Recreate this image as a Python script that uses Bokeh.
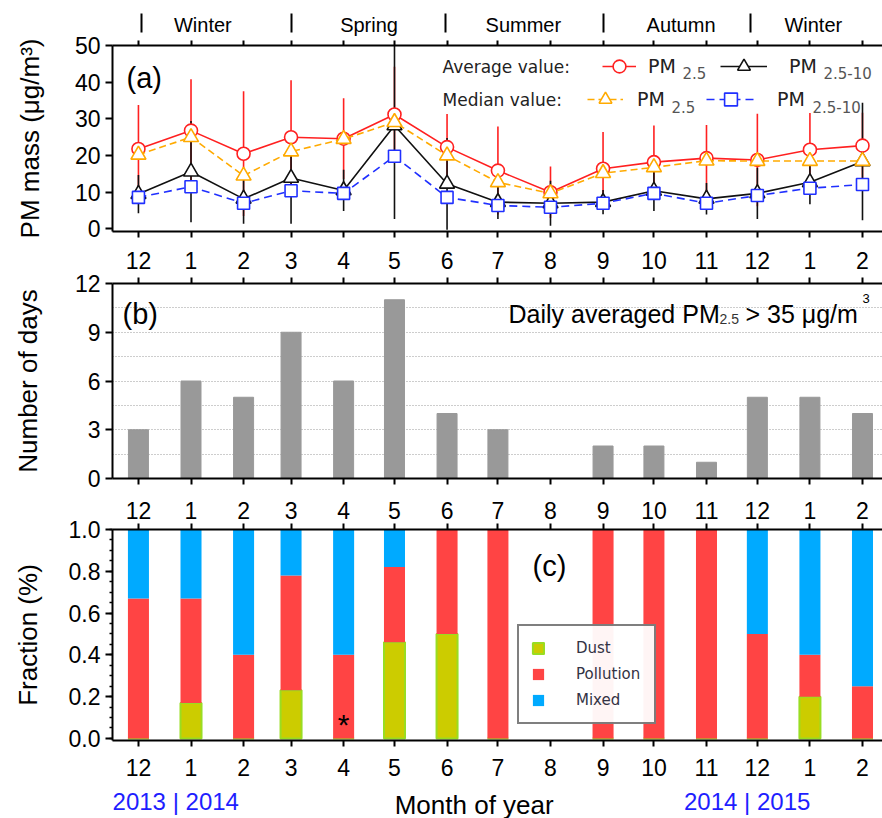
import numpy as np
import pandas as pd
from bokeh.plotting import figure
from bokeh.layouts import column
from bokeh.models import (ColumnDataSource, Range1d, FixedTicker, SingleIntervalTicker,
                          LinearAxis, Label, Legend, LegendItem, PrintfTickFormatter)
from bokeh.embed import file_html
from bokeh.resources import INLINE
from bokeh.core.properties import value

# ---------------- data ----------------
month_dates = ["2013-12-15", "2014-01-15", "2014-02-15", "2014-03-15", "2014-04-15",
               "2014-05-15", "2014-06-15", "2014-07-15", "2014-08-15", "2014-09-15",
               "2014-10-15", "2014-11-15", "2014-12-15", "2015-01-15", "2015-02-15"]
month_labels = ["12", "1", "2", "3", "4", "5", "6", "7", "8", "9", "10", "11", "12", "1", "2"]

season_names = ["Winter", "Spring", "Summer", "Autumn", "Winter"]
season_label_dates = ["2014-01-22", "2014-04-30", "2014-07-30", "2014-10-31", "2015-01-17"]
season_bound_dates = ["2013-12-17", "2014-03-15", "2014-06-14", "2014-09-15", "2014-12-11"]

note_texts = ["2013 | 2014", "Month of year", "2014 | 2015"]
note_dates = ["2014-01-06", "2014-07-01", "2014-12-09"]
note_colors = ["#1E1EFF", "black", "#1E1EFF"]
note_sizes = ["24px", "26px", "24px"]

# panel (a)  PM mass (ug/m3)
pm25_avg = [21.8, 26.8, 20.5, 25.0, 24.6, 31.2, 22.3, 15.9, 10.0, 16.4, 18.2, 19.3, 18.8, 21.6, 22.7]
pm25_std = [12.0, 14.0, 17.0, 15.5, 11.0, 13.0, 9.0, 12.0, 7.0, 10.0, 10.0, 9.0, 12.6, 10.0, 9.0]
pmc_avg = [9.5, 15.6, 8.2, 13.9, 10.5, 28.2, 12.3, 7.3, 7.0, 7.3, 10.4, 8.2, 9.7, 12.7, 18.4]
pmc_std = [5.2, 13.8, 6.8, 12.5, 5.6, 25.5, 12.5, 4.6, 6.1, 3.3, 5.5, 4.3, 7.0, 6.0, 16.0]
pm25_med = [20.2, 25.0, 14.5, 21.1, 24.5, 29.1, 20.0, 12.7, 9.7, 15.2, 16.8, 18.6, 18.5, 18.5, 18.5]
pmc_med = [8.6, 11.5, 7.0, 10.4, 9.7, 19.8, 8.6, 6.4, 5.9, 7.0, 9.7, 7.0, 9.1, 11.1, 12.1]

# panel (b)  number of days with daily PM2.5 > 35
days_over = [3, 6, 5, 9, 6, 11, 4, 3, 0, 2, 2, 1, 5, 5, 4]

# panel (c)  fractions
nan = float("nan")
frac_dust = [0.0, 0.17, 0.0, 0.23, 0.0, 0.46, 0.50, 0.0, nan, 0.0, 0.0, 0.0, 0.0, 0.20, 0.0]
frac_pollution = [0.67, 0.50, 0.40, 0.55, 0.40, 0.36, 0.50, 1.0, nan, 1.0, 1.0, 1.0, 0.50, 0.20, 0.25]
frac_mixed = [0.33, 0.33, 0.60, 0.22, 0.60, 0.18, 0.0, 0.0, nan, 0.0, 0.0, 0.0, 0.50, 0.60, 0.75]
star_index = 4
star_value = 0.1

# ---------------- helpers ----------------
ref = pd.Timestamp(month_dates[0])
def to_x(dates):
    return [int((pd.Timestamp(d) - ref).days) for d in dates]

mx = to_x(month_dates)
xr = Range1d(-15.3, 438.8)
FONT = "Liberation Sans"
LFONT = "DejaVu Sans"
W = 882
LEFT = 112

def style_x(ax, labels, standoff=0):
    ax.ticker = FixedTicker(ticks=mx, minor_ticks=[])
    ax.major_tick_out = 6
    ax.major_tick_in = 0
    ax.minor_tick_out = 0
    ax.minor_tick_in = 0
    ax.axis_line_width = 2
    ax.major_tick_line_width = 2
    ax.axis_line_color = "black"
    ax.major_tick_line_color = "black"
    if labels:
        ax.major_label_overrides = {x: l for x, l in zip(mx, month_labels)}
        ax.major_label_text_font = FONT
        ax.major_label_text_font_size = "23px"
        ax.major_label_text_color = "black"
        ax.major_label_standoff = standoff
    else:
        ax.major_label_overrides = {x: "" for x in mx}
        ax.major_label_text_font_size = "0px"
        ax.major_label_standoff = 0

def style_y(ax, title, standoff):
    ax.major_tick_out = 7
    ax.major_tick_in = 0
    ax.axis_line_width = 2
    ax.major_tick_line_width = 2
    ax.minor_tick_line_width = 1.5
    ax.axis_line_color = "black"
    ax.major_tick_line_color = "black"
    ax.minor_tick_line_color = "black"
    ax.major_label_text_font = FONT
    ax.major_label_text_font_size = "23px"
    ax.major_label_text_color = "black"
    ax.major_label_standoff = 5
    ax.axis_label = title
    ax.axis_label_text_font = FONT
    ax.axis_label_text_font_size = "26px"
    ax.axis_label_text_font_style = "normal"
    ax.axis_label_text_color = "black"
    ax.axis_label_standoff = standoff

def base(height, top, bottom, yr, xloc="below"):
    p = figure(width=W, height=height, x_range=xr, y_range=yr, output_backend="svg",
               toolbar_location=None, x_axis_location=xloc,
               min_border_left=LEFT, min_border_right=0, min_border_top=top,
               min_border_bottom=bottom)
    p.outline_line_color = None
    p.xgrid.visible = False
    p.ygrid.visible = False
    p.background_fill_color = "white"
    p.border_fill_color = "white"
    return p

def slabel(p, text, x, y, size, font=LFONT, color="#222222", align="left", baseline="middle"):
    p.add_layout(Label(x=x, y=y, x_units="screen", y_units="screen", text=text,
                       text_font=font, text_font_size=size, text_color=color,
                       text_align=align, text_baseline=baseline))

# ---------------- panel (a) ----------------
pa = base(241, 45, 10, Range1d(-0.7, 50))
style_x(pa.xaxis[0], False)
ta = LinearAxis()
style_x(ta, False)
ta.major_tick_out = 5
pa.add_layout(ta, "above")

# season axis: labels at season centres, separators as minor ticks
sx_lab = to_x(season_label_dates)
sx_bnd = to_x(season_bound_dates)
sa = LinearAxis()
sa.ticker = FixedTicker(ticks=sx_lab, minor_ticks=sx_bnd)
sa.major_label_overrides = {x: n for x, n in zip(sx_lab, season_names)}
sa.axis_line_color = None
sa.major_tick_out = 0
sa.major_tick_in = 0
sa.major_tick_line_color = None
sa.minor_tick_in = -8
sa.minor_tick_out = 27
sa.minor_tick_line_color = "black"
sa.minor_tick_line_width = 2
sa.major_label_text_font = FONT
sa.major_label_text_font_size = "20px"
sa.major_label_text_color = "black"
sa.major_label_standoff = -22
pa.add_layout(sa, "above")

pa.yaxis.ticker = SingleIntervalTicker(interval=10, num_minor_ticks=0)
style_y(pa.yaxis[0], "PM mass (μg/m³)", 27)

a = np.array
srcA = ColumnDataSource(dict(
    x=mx, pm25_avg=pm25_avg, pmc_avg=pmc_avg, pm25_med=pm25_med, pmc_med=pmc_med,
    r_lo=a(pm25_avg) - a(pm25_std), r_hi=a(pm25_avg) + a(pm25_std),
    k_lo=a(pmc_avg) - a(pmc_std), k_hi=a(pmc_avg) + a(pmc_std)))

RED, BLK, ORG, BLU = "#FF2020", "#111111", "#FFAA00", "#2030FF"
pa.segment(x0="x", y0="r_lo", x1="x", y1="r_hi", source=srcA, line_color=RED, line_width=1.6)
pa.segment(x0="x", y0="k_lo", x1="x", y1="k_hi", source=srcA, line_color=BLK, line_width=1.6)

l_r = pa.line("x", "pm25_avg", source=srcA, line_color=RED, line_width=1.6)
s_r = pa.scatter("x", "pm25_avg", source=srcA, marker="circle", size=13, line_color=RED,
                 fill_color="white", line_width=1.6)
l_k = pa.line("x", "pmc_avg", source=srcA, line_color=BLK, line_width=1.6)
s_k = pa.scatter("x", "pmc_avg", source=srcA, marker="triangle", size=15, line_color=BLK,
                 fill_color="white", line_width=1.6)
l_o = pa.line("x", "pm25_med", source=srcA, line_color=ORG, line_width=1.6, line_dash="7 4")
s_o = pa.scatter("x", "pm25_med", source=srcA, marker="triangle", size=15, line_color=ORG,
                 fill_color="white", line_width=1.6)
l_b = pa.line("x", "pmc_med", source=srcA, line_color=BLU, line_width=1.6, line_dash="8 5")
s_b = pa.scatter("x", "pmc_med", source=srcA, marker="square", size=12, line_color=BLU,
                 fill_color="white", line_width=1.6)

def mini_legend(p, rends, x, y, gw, standoff):
    lg = Legend(items=[LegendItem(label="PM", renderers=rends)], location=(x, y),
                padding=0, margin=0, spacing=0, glyph_width=gw, glyph_height=32,
                label_height=32, label_standoff=standoff, border_line_color=None,
                background_fill_alpha=0, label_text_font=LFONT,
                label_text_font_size="19px", label_text_color="#222222")
    p.add_layout(lg)

mini_legend(pa, [l_r, s_r], 490, 149, 34, 12)
mini_legend(pa, [l_k, s_k], 608, 149, 47, 22)
mini_legend(pa, [l_o, s_o], 475, 116, 36, 14)
mini_legend(pa, [l_b, s_b], 594, 116, 49, 22)

slabel(pa, "Average value:", 330, 165, "17px")
slabel(pa, "Median value:", 330, 132, "17px")
slabel(pa, "2.5", 570, 159, "15px", color="#555555")
slabel(pa, "2.5-10", 711, 159, "15px", color="#555555")
slabel(pa, "2.5", 559, 125, "15px", color="#555555")
slabel(pa, "2.5-10", 700, 125, "15px", color="#555555")
slabel(pa, "(a)", 14, 154, "29px", font=FONT, color="black")

# ---------------- panel (b) ----------------
pb = base(250, 42, 13, Range1d(0, 12), xloc="above")
style_x(pb.xaxis[0], True, 9)
bb = LinearAxis()
style_x(bb, False)
pb.add_layout(bb, "below")
pb.yaxis.ticker = SingleIntervalTicker(interval=3, num_minor_ticks=0)
style_y(pb.yaxis[0], "Number of days", 29)
pb.ygrid.visible = True
pb.ygrid.ticker = SingleIntervalTicker(interval=1.5, num_minor_ticks=0)
pb.ygrid.grid_line_color = "#9a9a9a"
pb.ygrid.grid_line_dash = "1 2"
pb.ygrid.grid_line_width = 1
pb.vbar(x=mx, top=days_over, width=11.8, fill_color="#999999", line_color="#999999",
        line_width=1)
slabel(pb, "(b)", 10, 165, "29px", font=FONT, color="black")
slabel(pb, "Daily averaged PM", 396, 165, "25px", font=FONT, color="black")
slabel(pb, "2.5", 607, 160, "14px", font=FONT, color="#333333")
slabel(pb, "> 35 μg/m", 633, 165, "25px", font=FONT, color="black")
slabel(pb, "3", 750, 180, "13px", font=FONT, color="black")

# ---------------- panel (c) ----------------
pc = base(294, 38, 45, Range1d(-0.01, 1), xloc="above")
style_x(pc.xaxis[0], True, 5)
bc = LinearAxis()
style_x(bc, True, 12)
pc.add_layout(bc, "below")
pc.yaxis.ticker = SingleIntervalTicker(interval=0.2, num_minor_ticks=4)
pc.yaxis.formatter = PrintfTickFormatter(format="%.1f")
style_y(pc.yaxis[0], "Fraction (%)", 23)
pc.yaxis.minor_tick_out = 3
pc.yaxis.minor_tick_in = 0

srcC = ColumnDataSource(dict(x=mx, Dust=frac_dust, Pollution=frac_pollution, Mixed=frac_mixed))
rc = pc.vbar_stack(["Dust", "Pollution", "Mixed"], x="x", width=12.4, source=srcC,
                   fill_color=["#CCCC00", "#FF4444", "#00AAFF"],
                   line_color=["#99DD22", None, None], line_width=2)
legC = Legend(items=[LegendItem(label=n, renderers=[r]) for n, r in
                     zip(["Dust", "Pollution", "Mixed"], rc)],
              location=(405, 16), padding=12, margin=0, spacing=6, glyph_width=14,
              glyph_height=14, label_height=20, label_width=66, label_standoff=31,
              border_line_color="black", border_line_width=2, background_fill_color="white",
              label_text_font=LFONT, label_text_font_size="15px", label_text_color="#333344")
pc.add_layout(legC)
slabel(pc, "(c)", 420, 175, "29px", font=FONT, color="black")
pc.add_layout(Label(x=mx[star_index], y=star_value, text="*", text_font=FONT,
                    text_font_size="30px", text_color="black", text_align="center",
                    text_baseline="middle", y_offset=-7))

# ---------------- bottom notes strip ----------------
pd_ = figure(width=W, height=33, x_range=xr, y_range=Range1d(33, 0), output_backend="svg",
             toolbar_location=None, x_axis_location=None, y_axis_location=None,
             min_border_left=LEFT, min_border_right=0, min_border_top=0, min_border_bottom=0)
pd_.outline_line_color = None
pd_.xgrid.visible = False
pd_.ygrid.visible = False
pd_.text(x=to_x(note_dates), y=[16, 19, 16], text=note_texts, text_color=note_colors,
         text_font=value(FONT), text_font_size=note_sizes, text_align="center",
         text_baseline="middle")

layout = column(pa, pb, pc, pd_, spacing=0)
open("out.html", "w").write(file_html(layout, INLINE))
